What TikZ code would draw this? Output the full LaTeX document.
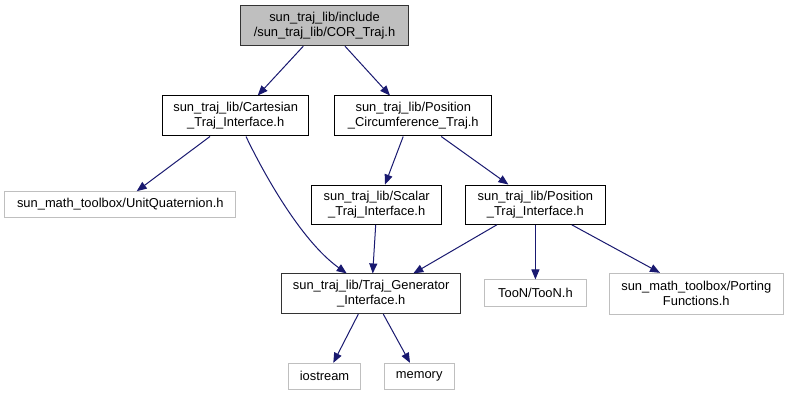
\documentclass[tikz,border=0pt]{standalone}
\usepackage{fontspec}
\setmainfont{Liberation Sans}
\usetikzlibrary{arrows.meta}
\definecolor{edgeblue}{HTML}{191970}
\definecolor{greyfill}{HTML}{BFBFBF}
\definecolor{greyline}{HTML}{BFBFBF}
\begin{document}
\begin{tikzpicture}[x=1pt, y=-1pt,
  box/.style={draw=black, line width=1pt, inner sep=0pt, align=center,
    font=\fontsize{12.9}{15}\selectfont, fill=white},
  rootbox/.style={box, fill=greyfill, draw=black!80},
  extbox/.style={box, draw=greyline},
  edge/.style={draw=edgeblue, line width=1pt,
    -{Triangle[length=10pt, width=8pt, fill=edgeblue]}}]
\fill[white] (0,0) rectangle (789,395);
\useasboundingbox (0,0) rectangle (789,395);

% headers
\node[rootbox, minimum width=167.6pt, minimum height=40pt] (top) at (324.5,25.7)
  {sun\_traj\_lib/include\\/sun\_traj\_lib/COR\_Traj.h};
\node[box, minimum width=146pt, minimum height=40pt] (cart) at (235.7,116)
  {sun\_traj\_lib/Cartesian\\\_Traj\_Interface.h};
\node[box, minimum width=156.7pt, minimum height=40pt] (posc) at (413.3,116)
  {sun\_traj\_lib/Position\\\_Circumference\_Traj.h};
\node[extbox, minimum width=231.3pt, minimum height=25.6pt] (unitq) at (120.3,204.5)
  {sun\_math\_toolbox/UnitQuaternion.h};
\node[box, minimum width=130pt, minimum height=39.3pt] (scalar) at (376.7,204.7)
  {sun\_traj\_lib/Scalar\\\_Traj\_Interface.h};
\node[box, minimum width=139.3pt, minimum height=39.3pt] (postraj) at (535.4,204.7)
  {sun\_traj\_lib/Position\\\_Traj\_Interface.h};
\node[box, draw=black!80, minimum width=179pt, minimum height=39.7pt] (trajgen) at (371.2,293.8)
  {sun\_traj\_lib/Traj\_Generator\\\_Interface.h};
\node[extbox, minimum width=102.4pt, minimum height=26.7pt] (toon) at (535.4,293.3)
  {TooN/TooN.h};
\node[extbox, minimum width=174pt, minimum height=40.7pt] (porting) at (696.3,293.7)
  {sun\_math\_toolbox/Porting\\Functions.h};
\node[extbox, minimum width=72.4pt, minimum height=25.7pt] (iostream) at (324.5,376.2)
  {iostream};
\node[extbox, minimum width=70.3pt, minimum height=25.7pt] (memory) at (419.2,376.2)
  {memory};

% include edges
\draw[edge] ([xshift=-21.2pt]top.south) -- ([xshift=22pt]cart.north);
\draw[edge] ([xshift=20.5pt]top.south) -- ([xshift=-23.3pt]posc.north);
\draw[edge] ([xshift=-25.7pt]cart.south) -- ([xshift=16.4pt]unitq.north);
\draw[edge] ([xshift=10.3pt]cart.south) .. controls (262,170) and (300,240) .. ([xshift=-24.5pt]trajgen.north);
\draw[edge] ([xshift=-10.1pt]posc.south) -- ([xshift=8.3pt]scalar.north);
\draw[edge] ([xshift=27.9pt]posc.south) -- ([xshift=-27pt]postraj.north);
\draw[edge] ([xshift=-1pt]scalar.south) -- ([xshift=1.5pt]trajgen.north);
\draw[edge] ([xshift=-38.6pt]postraj.south) -- ([xshift=42.1pt]trajgen.north);
\draw[edge] (postraj.south) -- (toon.north);
\draw[edge] ([xshift=36.4pt]postraj.south) -- ([xshift=-36.3pt]porting.north);
\draw[edge] ([xshift=-12.9pt]trajgen.south) -- ([xshift=8.8pt]iostream.north);
\draw[edge] ([xshift=12.1pt]trajgen.south) -- ([xshift=-9.2pt]memory.north);
\end{tikzpicture}
\end{document}
